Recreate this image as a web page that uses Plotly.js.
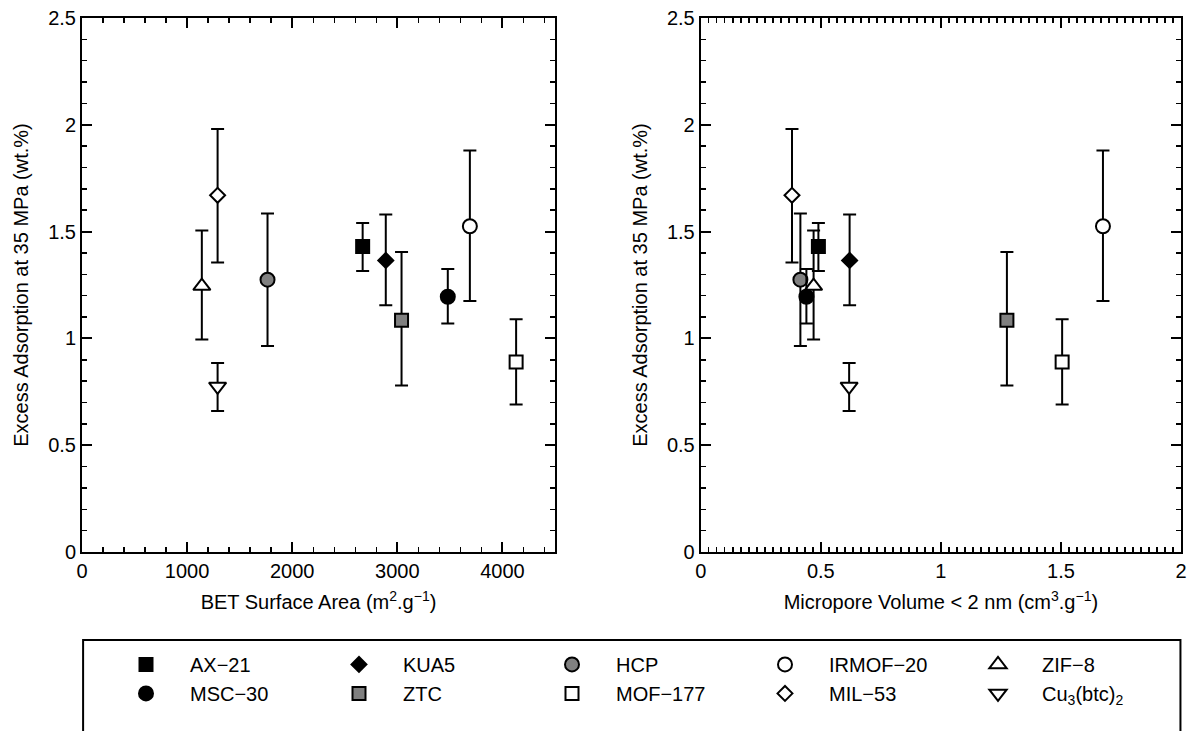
<!DOCTYPE html>
<html>
<head>
<meta charset="utf-8">
<script src="https://cdn.plot.ly/plotly-3.0.1.min.js"></script>
<style>html,body{margin:0;padding:0;background:#fff;}#chart{width:1189px;height:731px;}</style>
</head>
<body>
<div id="chart"></div>
<script>
// Materials (legend order: row 1 then row 2)
const materials = ["AX\u221221", "KUA5", "HCP", "IRMOF\u221220", "ZIF\u22128",
                   "MSC\u221230", "ZTC", "MOF\u2212177", "MIL\u221253", "Cu<sub>3</sub>(btc)<sub>2</sub>"];
// BET surface area (m2/g)
const betArea = [2670, 2890, 1765, 3690, 1140, 3480, 3040, 4130, 1290, 1290];
// Micropore volume < 2 nm (cm3/g)
const microVol = [0.49, 0.62, 0.415, 1.675, 0.47, 0.44, 1.275, 1.505, 0.38, 0.618];
// Excess adsorption at 35 MPa (wt.%)
const excessAds = [1.43, 1.365, 1.275, 1.525, 1.245, 1.195, 1.085, 0.89, 1.67, 0.775];
// Error bars (upper / lower)
const errPlus  = [0.11, 0.215, 0.31, 0.355, 0.26, 0.13, 0.32, 0.20, 0.31, 0.11];
const errMinus = [0.115, 0.21, 0.31, 0.35, 0.25, 0.125, 0.305, 0.20, 0.315, 0.115];
// Axis ranges and major tick labels
const xRangeBET = [0, 4500];
const xTicksBET = [0, 1000, 2000, 3000, 4000];
const xRangeVol = [0, 2];
const xTicksVol = [0, 0.5, 1, 1.5, 2];
const yRange = [0, 2.5];
const yTicks = [0, 0.5, 1, 1.5, 2, 2.5];

// Marker styles
const symbols = ["square", "diamond", "circle", "circle", "triangle-up",
                 "circle", "square", "square", "diamond", "triangle-down"];
const fills = ["#000000", "#000000", "#808080", "#ffffff", "#ffffff",
               "#000000", "#808080", "#ffffff", "#ffffff", "#ffffff"];
const sizes = [13, 11.5, 14, 14, 15, 14, 13, 13, 11.5, 15];

const FONT = "Liberation Sans, Arial, Helvetica, sans-serif";
const FS = 20;
const traces = [];
materials.forEach((name, i) => {
  const common = {
    type: "scatter", mode: "markers", name: name,
    marker: {symbol: symbols[i], size: sizes[i], color: fills[i],
             line: {color: "#000000", width: 2}},
    error_y: {type: "data", symmetric: false, array: [errPlus[i]], arrayminus: [errMinus[i]],
              color: "#000000", thickness: 2, width: 6.5},
    hoverinfo: "x+y+name"
  };
  traces.push(Object.assign({}, common, {x: [betArea[i]], y: [excessAds[i]], xaxis: "x", yaxis: "y", showlegend: true}));
  traces.push(Object.assign({}, common, {x: [microVol[i]], y: [excessAds[i]], xaxis: "x2", yaxis: "y2", showlegend: false}));
});
// empty helper traces so the tick-only frame axes (top / right) get drawn
[["x3", "y"], ["x", "y3"], ["x4", "y2"], ["x2", "y4"]].forEach(([xa, ya]) => {
  traces.push({type: "scatter", mode: "markers", x: [], y: [], xaxis: xa, yaxis: ya, showlegend: false, hoverinfo: "skip"});
});

const axisBase = {
  showgrid: false, zeroline: false, showline: true, linecolor: "#000", linewidth: 2,
  mirror: "ticks", ticks: "inside", ticklen: 10, tickwidth: 2, tickcolor: "#000",
  tickfont: {family: FONT, size: FS, color: "#000"}
};
const minorBET = {dtick: 200, tick0: 0, ticks: "inside", ticklen: 5, tickwidth: 1.5, tickcolor: "#000"};
const minorVol = {dtick: 0.5 / 15, tick0: 0, ticks: "inside", ticklen: 5, tickwidth: 1.5, tickcolor: "#000"};
const minorY = {dtick: 0.1, tick0: 0, ticks: "inside", ticklen: 5, tickwidth: 1.5, tickcolor: "#000"};
const yTitle = "Excess Adsorption at 35 MPa (wt.%)";
const frameAxis = (extra) => Object.assign({
  showgrid: false, zeroline: false, showline: false, showticklabels: false,
  ticks: "inside", ticklen: 10, tickwidth: 2, tickcolor: "#000"
}, extra);

const layout = {
  width: 1189, height: 731,
  margin: {l: 82, r: 8, t: 18, b: 179, autoexpand: false},
  paper_bgcolor: "#fff", plot_bgcolor: "#fff",
  font: {family: FONT, size: FS, color: "#000"},
  xaxis: Object.assign({}, axisBase, {
    domain: [0, 0.4304], range: xRangeBET, tickvals: xTicksBET, minor: minorBET,
    title: {text: "BET Surface Area (m<sup>2</sup>.g<sup>\u22121</sup>)", font: {family: FONT, size: FS}, standoff: 14},
    anchor: "y"
  }),
  yaxis: Object.assign({}, axisBase, {
    domain: [0, 1], range: yRange, tickvals: yTicks, minor: minorY,
    title: {text: yTitle, font: {family: FONT, size: FS}, standoff: 14},
    anchor: "x"
  }),
  xaxis2: Object.assign({}, axisBase, {
    domain: [0.563, 1], range: xRangeVol, tickvals: xTicksVol, minor: minorVol,
    title: {text: "Micropore Volume &lt; 2 nm (cm<sup>3</sup>.g<sup>\u22121</sup>)", font: {family: FONT, size: FS}, standoff: 14},
    anchor: "y2"
  }),
  yaxis2: Object.assign({}, axisBase, {
    domain: [0, 1], range: yRange, tickvals: yTicks, minor: minorY,
    title: {text: yTitle, font: {family: FONT, size: FS}, standoff: 14},
    anchor: "x2"
  }),
  xaxis3: frameAxis({overlaying: "x", side: "top", anchor: "y", range: xRangeBET, tickvals: xTicksBET, minor: minorBET}),
  yaxis3: frameAxis({overlaying: "y", side: "right", anchor: "x", range: yRange, tickvals: yTicks, minor: minorY}),
  xaxis4: frameAxis({overlaying: "x2", side: "top", anchor: "y2", range: xRangeVol, tickvals: xTicksVol, minor: minorVol}),
  yaxis4: frameAxis({overlaying: "y2", side: "right", anchor: "x2", range: yRange, tickvals: yTicks, minor: minorY}),
  showlegend: true,
  legend: {
    orientation: "h", x: 0.0182, xanchor: "left", y: -0.174, yanchor: "top",
    itemwidth: 78, entrywidth: 120, entrywidthmode: "pixels",
    bgcolor: "rgba(0,0,0,0)", borderwidth: 0,
    font: {family: FONT, size: FS, color: "#000"},
    traceorder: "normal"
  },
  shapes: [{
    type: "rect", xref: "paper", yref: "paper",
    x0: 0.001, x1: 0.9995, y0: -0.1648, y1: -0.345,
    line: {color: "#000", width: 2}, fillcolor: "rgba(0,0,0,0)", layer: "below"
  }]
};

Plotly.newPlot("chart", traces, layout, {displayModeBar: false, staticPlot: true});
</script>
</body>
</html>
